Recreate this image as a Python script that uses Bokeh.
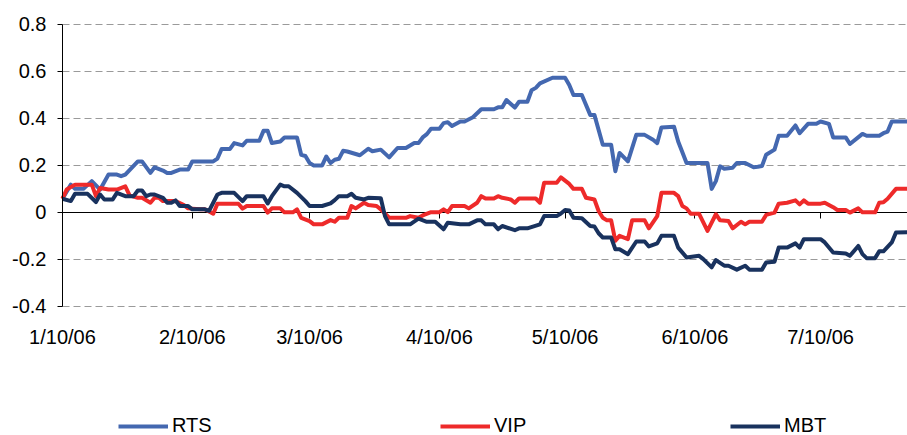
import pandas as pd
from bokeh.plotting import figure
from bokeh.models import (Range1d, FixedTicker, DatetimeAxis, Legend, LegendItem,
                          ColumnDataSource, Grid)
from bokeh.embed import file_html
from bokeh.resources import INLINE

# ---------------- data ----------------
rts_dates = ["1/10", "1/12", "1/13", "1/15", "1/17", "1/19", "1/21", "1/23", "1/24", "1/25",
             "1/28", "1/29", "1/31", "2/1", "2/3", "2/4", "2/5", "2/7", "2/9", "2/10",
             "2/15", "2/16", "2/17", "2/19", "2/20", "2/22", "2/23", "2/26", "2/27", "2/28",
             "3/1", "3/3", "3/4", "3/7", "3/8", "3/9", "3/10", "3/11", "3/13", "3/14",
             "3/15", "3/16", "3/17", "3/18", "3/19", "3/22", "3/24", "3/25", "3/27", "3/29",
             "3/31", "4/2", "4/4", "4/5", "4/6", "4/7", "4/8", "4/10", "4/11", "4/12",
             "4/13", "4/15", "4/16", "4/18", "4/20", "4/23", "4/24", "4/25", "4/26", "4/28",
             "4/29", "5/1", "5/2", "5/3", "5/4", "5/7", "5/10", "5/11", "5/12", "5/14",
             "5/16", "5/17", "5/19", "5/21", "5/22", "5/23", "5/25", "5/27", "5/29", "5/31",
             "6/1", "6/2", "6/5", "6/6", "6/8", "6/13", "6/14", "6/15", "6/16", "6/17",
             "6/19", "6/20", "6/22", "6/24", "6/25", "6/26", "6/27", "6/29", "6/30", "7/2",
             "7/4", "7/5", "7/7", "7/9", "7/10", "7/12", "7/13", "7/16", "7/17", "7/20",
             "7/21", "7/24", "7/25", "7/26", "7/27", "7/31"]
rts_values = [0.058, 0.118, 0.100, 0.100, 0.133, 0.097, 0.161, 0.161, 0.154, 0.161,
              0.217, 0.217, 0.168, 0.192, 0.178, 0.168, 0.168, 0.182, 0.182, 0.217,
              0.217, 0.229, 0.270, 0.270, 0.295, 0.285, 0.305, 0.305, 0.347, 0.347,
              0.295, 0.302, 0.319, 0.319, 0.245, 0.240, 0.210, 0.200, 0.200, 0.238,
              0.210, 0.224, 0.228, 0.262, 0.259, 0.243, 0.271, 0.260, 0.267, 0.234,
              0.274, 0.274, 0.295, 0.295, 0.319, 0.333, 0.356, 0.356, 0.380, 0.384,
              0.368, 0.387, 0.387, 0.405, 0.439, 0.439, 0.447, 0.447, 0.478, 0.446,
              0.471, 0.471, 0.520, 0.530, 0.549, 0.573, 0.573, 0.542, 0.500, 0.500,
              0.415, 0.415, 0.288, 0.288, 0.175, 0.253, 0.217, 0.330, 0.330, 0.309,
              0.295, 0.361, 0.365, 0.302, 0.210, 0.210, 0.100, 0.133, 0.196, 0.186,
              0.190, 0.210, 0.210, 0.192, 0.194, 0.197, 0.245, 0.267, 0.326, 0.326,
              0.370, 0.337, 0.377, 0.377, 0.387, 0.377, 0.319, 0.319, 0.291, 0.334,
              0.326, 0.326, 0.337, 0.344, 0.387, 0.387]

vip_dates = ["1/10", "1/11", "1/13", "1/17", "1/18", "1/19", "1/21", "1/23", "1/25", "1/26",
             "1/28", "1/29", "1/31", "2/1", "2/2", "2/3", "2/6", "2/8", "2/9", "2/12",
             "2/13", "2/15", "2/16", "2/21", "2/22", "2/23", "2/27", "2/28", "3/1", "3/3",
             "3/4", "3/6", "3/7", "3/8", "3/10", "3/11", "3/13", "3/15", "3/16", "3/17",
             "3/19", "3/20", "3/21", "3/23", "3/24", "3/26", "3/27", "3/29", "4/2", "4/3",
             "4/5", "4/6", "4/8", "4/10", "4/11", "4/12", "4/13", "4/16", "4/17", "4/19",
             "4/20", "4/21", "4/23", "4/24", "4/25", "4/27", "4/28", "4/29", "5/3", "5/4",
             "5/5", "5/8", "5/9", "5/10", "5/11", "5/12", "5/14", "5/15", "5/17", "5/18",
             "5/19", "5/20", "5/21", "5/22", "5/23", "5/25", "5/26", "5/29", "5/30", "6/1",
             "6/2", "6/5", "6/6", "6/7", "6/8", "6/9", "6/11", "6/13", "6/15", "6/16",
             "6/18", "6/19", "6/21", "6/22", "6/23", "6/26", "6/27", "6/29", "6/30", "7/2",
             "7/4", "7/5", "7/6", "7/7", "7/10", "7/11", "7/13", "7/14", "7/16", "7/17",
             "7/19", "7/20", "7/23", "7/24", "7/25", "7/26", "7/28", "7/31"]
vip_values = [0.058, 0.097, 0.118, 0.118, 0.069, 0.104, 0.097, 0.097, 0.111, 0.073,
              0.062, 0.062, 0.041, 0.062, 0.062, 0.048, 0.048, 0.031, 0.017, 0.013,
              0.013, -0.006, 0.037, 0.037, 0.016, 0.027, 0.027, -0.001, 0.017, 0.017,
              0.000, 0.000, 0.013, -0.023, -0.037, -0.051, -0.051, -0.033, -0.040, -0.023,
              -0.023, 0.027, 0.017, 0.041, 0.031, 0.027, 0.013, -0.023, -0.023, -0.016,
              -0.023, -0.013, 0.001, 0.001, 0.013, 0.001, 0.027, 0.027, 0.017, 0.041,
              0.069, 0.059, 0.059, 0.069, 0.062, 0.055, 0.041, 0.059, 0.059, 0.041,
              0.126, 0.126, 0.149, 0.135, 0.121, 0.100, 0.100, 0.062, 0.055, 0.006,
              -0.023, -0.034, -0.034, -0.121, -0.100, -0.114, -0.034, -0.034, -0.068, -0.016,
              0.083, 0.083, 0.069, 0.027, 0.017, -0.006, -0.006, -0.079, -0.008, -0.034,
              -0.037, -0.068, -0.040, -0.051, -0.040, -0.040, -0.011, -0.001, 0.037, 0.041,
              0.051, 0.034, 0.051, 0.037, 0.037, 0.041, 0.022, 0.010, 0.010, -0.001,
              0.017, 0.000, 0.000, 0.041, 0.043, 0.058, 0.100, 0.100]

mbt_dates = ["1/10", "1/12", "1/13", "1/16", "1/18", "1/19", "1/20", "1/22", "1/23", "1/25",
             "1/27", "1/28", "1/29", "1/30", "1/31", "2/1", "2/3", "2/4", "2/5", "2/6",
             "2/7", "2/9", "2/10", "2/13", "2/14", "2/15", "2/16", "2/17", "2/20", "2/22",
             "2/23", "2/27", "2/28", "3/1", "3/3", "3/4", "3/5", "3/7", "3/9", "3/10",
             "3/13", "3/15", "3/16", "3/17", "3/19", "3/20", "3/21", "3/23", "3/24", "3/27",
             "3/28", "3/29", "4/3", "4/5", "4/7", "4/9", "4/11", "4/12", "4/15", "4/17",
             "4/19", "4/20", "4/21", "4/23", "4/24", "4/25", "4/28", "4/29", "5/1", "5/4",
             "5/5", "5/8", "5/9", "5/10", "5/11", "5/12", "5/14", "5/16", "5/17", "5/18",
             "5/19", "5/21", "5/22", "5/23", "5/25", "5/27", "5/29", "5/30", "6/1", "6/2",
             "6/5", "6/6", "6/8", "6/11", "6/12", "6/14", "6/15", "6/17", "6/18", "6/20",
             "6/22", "6/23", "6/26", "6/27", "6/29", "6/30", "7/2", "7/4", "7/5", "7/6",
             "7/10", "7/11", "7/13", "7/16", "7/17", "7/19", "7/20", "7/21", "7/23", "7/24",
             "7/25", "7/27", "7/28", "7/31"]
mbt_values = [0.058, 0.048, 0.079, 0.079, 0.044, 0.076, 0.055, 0.055, 0.083, 0.069,
              0.069, 0.093, 0.093, 0.069, 0.076, 0.076, 0.062, 0.041, 0.041, 0.051,
              0.027, 0.027, 0.013, 0.013, 0.006, 0.041, 0.076, 0.083, 0.083, 0.048,
              0.069, 0.069, 0.038, 0.069, 0.118, 0.111, 0.111, 0.083, 0.048, 0.027,
              0.027, 0.038, 0.052, 0.069, 0.069, 0.079, 0.062, 0.055, 0.062, 0.060,
              -0.016, -0.051, -0.051, -0.027, -0.040, -0.040, -0.072, -0.044, -0.051, -0.051,
              -0.034, -0.034, -0.051, -0.051, -0.072, -0.058, -0.076, -0.068, -0.068, -0.051,
              -0.016, -0.016, -0.005, 0.010, 0.008, -0.023, -0.025, -0.058, -0.060, -0.089,
              -0.107, -0.107, -0.157, -0.157, -0.178, -0.124, -0.124, -0.145, -0.132, -0.100,
              -0.100, -0.150, -0.192, -0.185, -0.199, -0.234, -0.203, -0.227, -0.227, -0.244,
              -0.227, -0.244, -0.244, -0.213, -0.210, -0.150, -0.150, -0.132, -0.150, -0.114,
              -0.114, -0.128, -0.171, -0.175, -0.185, -0.143, -0.178, -0.195, -0.195, -0.166,
              -0.166, -0.128, -0.086, -0.084]

series_names = ["RTS", "VIP", "MBT"]
series_colors = ["#4468B0", "#EE2A2A", "#19325E"]

x_tick_dates = ["1/10", "2/10", "3/10", "4/10", "5/10", "6/10", "7/10"]
x_tick_labels = ["1/10/06", "2/10/06", "3/10/06", "4/10/06", "5/10/06", "6/10/06", "7/10/06"]
y_ticks = [-0.4, -0.2, 0.0, 0.2, 0.4, 0.6, 0.8]
y_tick_labels = ["-0.4", "-0.2", "0", "0.2", "0.4", "0.6", "0.8"]


def to_dt(lst):
    return pd.to_datetime([s + "/2006" for s in lst], format="%m/%d/%Y")


FONT = "Liberation Sans"

# the frame covers the whole page (so nothing is clipped); axes are placed
# at fixed locations and bounded to the chart's own extent
x_start = pd.Timestamp("2005-12-26 05:00")
x_end = pd.Timestamp("2006-07-30 18:00")
p = figure(width=907, height=435, x_axis_type="datetime",
           output_backend="svg", toolbar_location=None,
           x_range=Range1d(x_start, x_end),
           y_range=Range1d(-0.95, 0.902),
           min_border_left=0, min_border_right=0, min_border_top=0, min_border_bottom=0)
p.outline_line_color = None
p.background_fill_color = "white"
p.border_fill_color = "white"

tick_ms = [ts.timestamp() * 1000.0 for ts in to_dt(x_tick_dates)]
x_end_ms = x_end.timestamp() * 1000.0
x_overrides = {t: lab for t, lab in zip(tick_ms, x_tick_labels)}

# date labels under the value-axis minimum
xa = p.xaxis[0]
xa.fixed_location = -0.4
xa.ticker = FixedTicker(ticks=tick_ms)
xa.major_label_overrides = x_overrides
xa.axis_line_color = None
xa.major_tick_line_color = None
xa.minor_tick_line_color = None
xa.major_tick_out = 0
xa.major_tick_in = 0
xa.major_label_standoff = 20
xa.major_label_text_font = FONT
xa.major_label_text_font_size = "20px"
xa.major_label_text_color = "black"

# value axis at the first date
ya = p.yaxis[0]
ya.fixed_location = tick_ms[0]
ya.bounds = (-0.4, 0.8)
ya.ticker = FixedTicker(ticks=y_ticks)
ya.major_label_overrides = {t: lab for t, lab in zip(y_ticks, y_tick_labels)}
ya.axis_line_color = "black"
ya.axis_line_width = 1
ya.major_tick_line_color = "black"
ya.major_tick_out = 5
ya.major_tick_in = 0
ya.minor_tick_line_color = None
ya.major_label_standoff = 11
ya.major_label_text_font = FONT
ya.major_label_text_font_size = "20px"
ya.major_label_text_color = "black"

# dashed horizontal gridlines (not at zero, where the axis line is), only across the chart
grid_ticks = [t for t in y_ticks if t != 0.0]
p.xgrid.visible = False
yg = p.ygrid[0]
yg.ticker = FixedTicker(ticks=grid_ticks)
yg.grid_line_color = "#9a9a9a"
yg.grid_line_dash = "7 4"
yg.grid_line_width = 1
if "cross_bounds" in Grid.properties():
    yg.cross_bounds = (tick_ms[0], x_end_ms)
else:
    yg.visible = False
    p.segment(x0=[tick_ms[0]] * len(grid_ticks), x1=[x_end_ms] * len(grid_ticks),
              y0=grid_ticks, y1=grid_ticks, line_color="#9a9a9a", line_dash="7 4",
              line_width=1, level="underlay")

# horizontal axis line crossing at zero
za = DatetimeAxis(fixed_location=0, ticker=FixedTicker(ticks=tick_ms),
                  bounds=(tick_ms[0], x_end_ms),
                  axis_line_color="black", axis_line_width=1,
                  major_tick_line_color="black", major_tick_out=6, major_tick_in=0,
                  minor_tick_line_color=None, major_label_text_color=None,
                  major_label_standoff=0,
                  major_label_text_font_size="1px", level="underlay")
p.add_layout(za, "below")

renderers = []
for name, dates, vals, col in zip(series_names, [rts_dates, vip_dates, mbt_dates],
                                  [rts_values, vip_values, mbt_values], series_colors):
    src = ColumnDataSource(dict(x=to_dt(dates), y=vals))
    r = p.line("x", "y", source=src, line_color=col, line_width=4, line_join="round")
    renderers.append(r)

legend_x = [118, 440, 730]
for name, r, lx in zip(series_names, renderers, legend_x):
    lg = Legend(items=[LegendItem(label=name, renderers=[r])], location=(lx, -2),
                orientation="horizontal", padding=0, margin=0, border_line_color=None,
                background_fill_alpha=0, label_text_font=FONT, label_text_font_size="20px",
                label_text_color="black", glyph_width=50, glyph_height=20,
                label_height=20, label_standoff=4)
    p.add_layout(lg, "center")

open("out.html", "w").write(file_html(p, INLINE))
